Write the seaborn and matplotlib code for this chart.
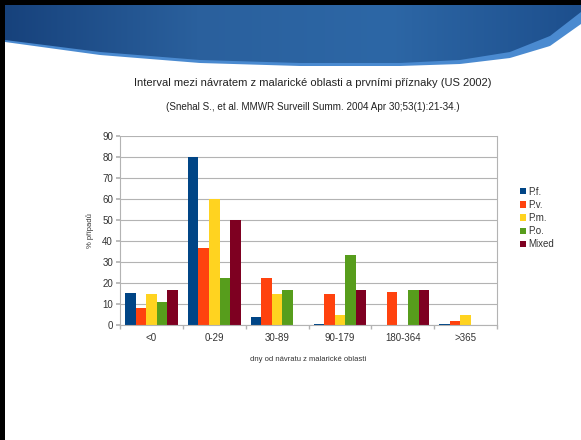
import numpy as np
import pandas as pd
import matplotlib.pyplot as plt
from matplotlib.patches import Polygon, Rectangle
import matplotlib.colors as mcolors
import seaborn as sns

# data (% of cases)
intervals = ['<0', '0-29', '30-89', '90-179', '180-364', '>365']
species = ['P.f.', 'P.v.', 'P.m.', 'P.o.', 'Mixed']
pf = [15.2, 80.0, 3.8, 0.3, 0.2, 0.5]
pv = [8.3, 36.7, 22.5, 15.0, 15.6, 1.7]
pm = [15.0, 60.0, 15.0, 5.0, 0.0, 5.0]
po = [11.1, 22.2, 16.7, 33.3, 16.7, 0.0]
mixed = [16.7, 50.0, 0.0, 16.7, 16.7, 0.0]
colors = ['#004586', '#ff420e', '#ffd320', '#579d1c', '#7e0021']

rows = []
for name, vals in zip(species, [pf, pv, pm, po, mixed]):
    for cat, v in zip(intervals, vals):
        rows.append({'interval': cat, 'druh': name, 'pct': v})
df = pd.DataFrame(rows)

sns.set_theme(style="white")
plt.rcParams['font.family'] = ['Liberation Sans', 'DejaVu Sans']

W, H = 581, 440
fig = plt.figure(figsize=(W / 100, H / 100), dpi=100)

# slide background: header band + black frame
bg = fig.add_axes([0, 0, 1, 1], zorder=-1)
bg.axis('off')
xs = np.linspace(5, W, 300)
edge_x = [5, 100, 200, 300, 400, 460, 510, 550, 581]
y_dark = np.interp(xs, edge_x, [40, 52, 60, 63, 63, 60, 52, 36, 12])
y_light = np.interp(xs, edge_x, [42, 55, 63, 66, 66, 64, 58, 46, 24])
light = Polygon(np.column_stack([np.r_[xs, xs[::-1]], np.r_[y_light, np.full_like(xs, 5)]]),
                closed=True, facecolor='#4a8ad0', edgecolor='none', zorder=0)
bg.add_patch(light)
dark = Polygon(np.column_stack([np.r_[xs, xs[::-1]], np.r_[y_dark, np.full_like(xs, 5)]]),
               closed=True, facecolor='none', edgecolor='none')
bg.add_patch(dark)
cmap = mcolors.LinearSegmentedColormap.from_list('hdr', ['#17427c', '#2a609d', '#2d67a6', '#1d4f8d'])
grad = np.linspace(0, 1, 256)[None, :]
im = bg.imshow(grad, cmap=cmap, extent=[5, W, 70, 5], aspect='auto', zorder=2)
im.set_clip_path(dark)
bg.set_xlim(0, W)
bg.set_ylim(H, 0)
bg.add_patch(Rectangle((0, 0), 5, H, facecolor='black', edgecolor='none', zorder=3))
bg.add_patch(Rectangle((0, 0), W, 5, facecolor='black', edgecolor='none', zorder=3))

# chart
ax = fig.add_axes([120 / W, 1 - 325 / H, 377 / W, 189 / H])
sns.barplot(data=df, x='interval', y='pct', hue='druh', palette=colors,
            width=0.84, saturation=1, linewidth=0, ax=ax)
ax.set_ylim(0, 90)
ax.set_xlim(-0.5, 5.5)
ax.set_yticks(range(0, 91, 10))
ax.yaxis.grid(True, color='#b3b3b3', linewidth=0.8)
ax.set_axisbelow(True)
for s in ax.spines.values():
    s.set_color('#b3b3b3')
    s.set_linewidth(0.8)
ax.spines['top'].set_visible(False)
ax.tick_params(axis='y', labelsize=7, length=3, color='#b3b3b3', left=True, pad=2, labelcolor='#333333')
ax.tick_params(axis='x', which='major', labelsize=7, length=0, pad=6, labelcolor='#333333')
ax.set_xticks(np.arange(-0.5, 6, 1), minor=True)
ax.tick_params(axis='x', which='minor', length=3, color='#b3b3b3', bottom=True)
ax.set_xlabel('dny od návratu z malarické oblasti', fontsize=5.5, labelpad=9, color='#333333')
ax.set_ylabel('% případů', fontsize=5.5, labelpad=6, color='#333333')

handles, labels = ax.get_legend_handles_labels()
ax.legend(handles, labels, loc='center left', bbox_to_anchor=(515 / W, 1 - 218 / H),
          bbox_transform=fig.transFigure, frameon=False, fontsize=7,
          handlelength=0.6, handleheight=0.6, handletextpad=0.25, labelspacing=0.32,
          borderpad=0, labelcolor='#333333')

fig.text(313 / W, 1 - 83 / H, 'Interval mezi návratem z malarické oblasti a prvními příznaky (US 2002)',
         ha='center', va='center', fontsize=8.0, color='#222222')
fig.text(313 / W, 1 - 107 / H, '(Snehal S., et al. MMWR Surveill Summ. 2004 Apr 30;53(1):21-34.)',
         ha='center', va='center', fontsize=7.1, color='#222222')

fig.savefig('out.png', dpi=100)
